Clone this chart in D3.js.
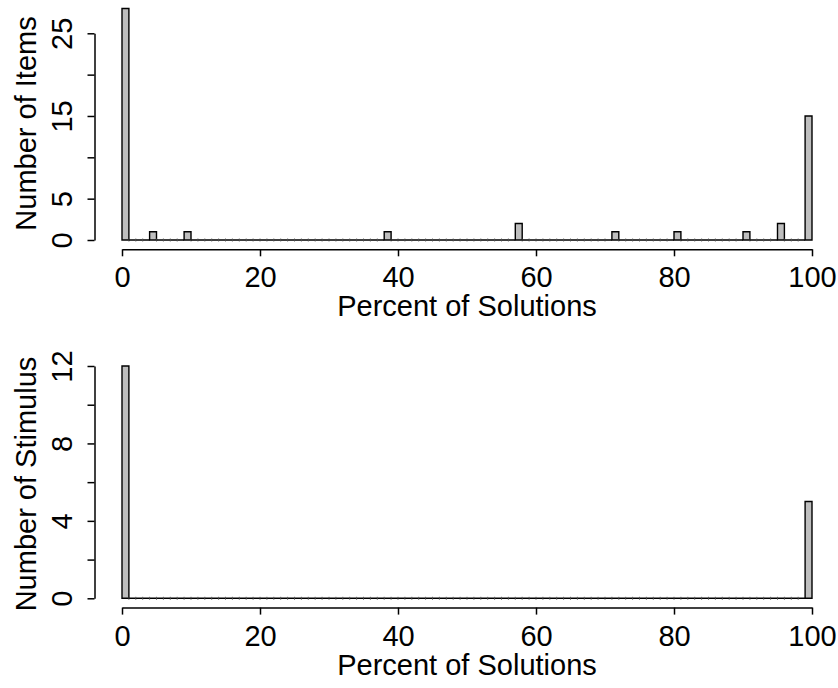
<!DOCTYPE html>
<html>
<head>
<meta charset="utf-8">
<script src="https://cdn.jsdelivr.net/npm/d3@7"></script>
<style>
  html, body { margin: 0; padding: 0; background: #fff; }
  svg { display: block; }
  text { font-family: "Liberation Sans", Arial, Helvetica, sans-serif; fill: #000; }
</style>
</head>
<body>
<script>
// ---- data ----
const binCount = 100;                       // histogram bins of width 1, 0..100
const itemBins   = [0, 4, 9, 38, 57, 71, 80, 90, 95, 99];
const itemCounts = [28, 1, 1, 1, 2, 1, 1, 1, 2, 15];
const stimBins   = [0, 99];
const stimCounts = [12, 5];
const xTicks = [0, 20, 40, 60, 80, 100];
const itemYTicks  = [0, 5, 10, 15, 20, 25];
const itemYLabels = ["0", "5", "", "15", "", "25"];
const stimYTicks  = [0, 2, 4, 6, 8, 10, 12];
const stimYLabels = ["0", "", "4", "", "8", "", "12"];
const xTitle = "Percent of Solutions";
const itemTitle = "Number of Items";
const stimTitle = "Number of Stimulus";

// ---- layout ----
const W = 838, H = 688;
const fontSize = 29;
const svg = d3.select("body").append("svg").attr("width", W).attr("height", H);

function buildBins(starts, counts) {
  const m = new Map(starts.map((s, i) => [s, counts[i]]));
  return d3.range(binCount).map(i => ({ x0: i, x1: i + 1, n: m.get(i) || 0 }));
}

function panel(cfg) {
  const x = d3.scaleLinear().domain([0, 100]).range([122, 812]);
  const y = d3.scaleLinear().domain([0, cfg.yMax]).range([cfg.y0, cfg.yTop]);
  const g = svg.append("g");
  const data = buildBins(cfg.bins, cfg.counts);

  // bars
  g.selectAll("path.bar").data(data).join("path")
    .attr("class", "bar")
    .attr("d", d => `M${x(d.x0)},${y(0)}V${y(d.n)}H${x(d.x1)}V${y(0)}Z`)
    .attr("fill", "#bebebe")
    .attr("stroke", "#000")
    .attr("stroke-width", 1.4);
  // small edge marks on empty bins
  g.selectAll("line.edge").data(data.filter(d => d.n === 0)).join("line")
    .attr("class", "edge")
    .attr("x1", d => x(d.x0)).attr("x2", d => x(d.x0))
    .attr("y1", y(0) - 1.5).attr("y2", y(0) + 1.5)
    .attr("stroke", "#444").attr("stroke-width", 0.8);

  // x axis
  const xa = g.append("g").attr("transform", `translate(0,${cfg.xAxisY})`)
    .call(d3.axisBottom(x).tickValues(xTicks).tickSize(7).tickSizeOuter(0).tickFormat(d3.format("d")));
  xa.select(".domain").attr("stroke-width", 1.5);
  xa.selectAll(".tick line").attr("stroke-width", 1.5);
  xa.selectAll(".tick text").attr("y", 38).attr("dy", 0)
    .style("font-size", fontSize + "px").style("font-family", "Liberation Sans, Arial, sans-serif");

  // y axis
  const ya = g.append("g").attr("transform", `translate(94.5,0)`)
    .call(d3.axisLeft(y).tickValues(cfg.yTicks).tickSize(7).tickSizeOuter(0)
      .tickFormat((d, i) => cfg.yLabels[i]));
  ya.select(".domain").attr("stroke-width", 1.5);
  ya.selectAll(".tick line").attr("stroke-width", 1.5);
  ya.selectAll(".tick text")
    .attr("x", 0).attr("y", 0).attr("dy", 0)
    .attr("text-anchor", "middle")
    .attr("transform", "translate(-23,0) rotate(-90)")
    .style("font-size", fontSize + "px").style("font-family", "Liberation Sans, Arial, sans-serif");

  // titles
  g.append("text")
    .attr("x", (94.4 + 839.6) / 2).attr("y", cfg.xAxisY + 67)
    .attr("text-anchor", "middle").style("font-size", fontSize + "px")
    .text(xTitle);
  g.append("text")
    .attr("transform", `translate(36,${cfg.yCenter}) rotate(-90)`)
    .attr("text-anchor", "middle").style("font-size", fontSize + "px")
    .text(cfg.yTitle);
}

panel({ bins: itemBins, counts: itemCounts, yMax: 25, y0: 240, yTop: 33.3,
        yTicks: itemYTicks, yLabels: itemYLabels, xAxisY: 249.3, yCenter: 123.5, yTitle: itemTitle });
panel({ bins: stimBins, counts: stimCounts, yMax: 12, y0: 598.3, yTop: 366,
        yTicks: stimYTicks, yLabels: stimYLabels, xAxisY: 607.6, yCenter: 484, yTitle: stimTitle });
</script>
</body>
</html>
